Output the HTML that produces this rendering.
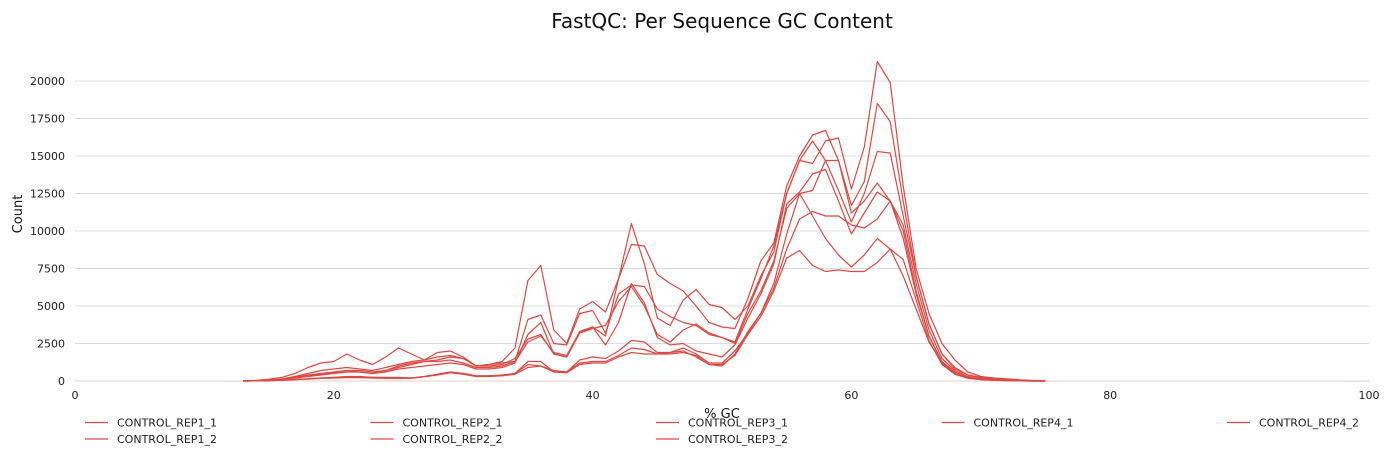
<!DOCTYPE html>
<html><head><meta charset="utf-8"><style>
html,body{margin:0;padding:0;background:#fff;width:1390px;height:460px;overflow:hidden}
svg{display:block;font-family:"DejaVu Sans","Liberation Sans",sans-serif}
</style></head><body>
<svg id="chart" width="1390" height="460">
<text x="722" y="28" text-anchor="middle" font-size="20" fill="#111">FastQC: Per Sequence GC Content</text>
<g id="grid"></g>
<g id="yticks"></g>
<g id="xticks"></g>
<text x="22" y="214" transform="rotate(-90 22 214)" text-anchor="middle" font-size="13" fill="#111">Count</text>
<text x="722" y="418" text-anchor="middle" font-size="13" fill="#111">% GC</text>
<g id="lines"></g>
<g id="legend"></g>
</svg>
<script>
const seriesNames = ["CONTROL_REP1_1","CONTROL_REP1_2","CONTROL_REP2_1","CONTROL_REP2_2","CONTROL_REP3_1","CONTROL_REP3_2","CONTROL_REP4_1","CONTROL_REP4_2"];
const yTicks = [0,2500,5000,7500,10000,12500,15000,17500,20000];
const xTicks = [0,20,40,60,80,100];
const startX = 13;
const s1 = [0,20,60,150,300,500,700,800,900,800,700,900,1100,1300,1400,1600,1700,1500,1000,1000,1100,1500,2800,3100,1800,1600,3200,3600,3000,6800,10500,7800,4200,3700,5400,6100,5100,4900,4100,5000,7000,8600,12500,14700,14500,16000,16200,12800,15600,21300,19900,13000,7500,4500,2500,1400,600,300,200,150,80,40,20];
const s2 = [0,20,50,120,250,400,500,600,700,600,500,700,900,1100,1300,1400,1600,1500,1000,1100,1300,2200,6700,7700,3400,2500,4800,5300,4600,6800,9100,9000,7100,6500,6000,5000,3900,3600,3500,5500,8000,9200,13000,15000,16400,16700,14700,11700,13300,18500,17300,12000,7000,3800,1800,900,400,250,200,100,60,30,10];
const s3 = [10,50,120,250,500,900,1200,1300,1800,1400,1100,1600,2200,1800,1400,1900,2000,1600,1000,1100,1200,1300,4100,4400,2500,2400,4500,4700,3200,5800,6400,6300,4800,4300,3900,3700,3100,2900,2600,4800,6800,9000,12500,14700,16000,14700,12700,10600,12500,15300,15200,11000,7000,3800,1800,800,400,200,150,100,50,20,10];
const s4 = [0,10,40,100,200,300,400,500,600,600,500,600,800,900,1000,1100,1200,1100,800,800,900,1200,3100,3900,1800,1600,3200,3500,3700,5300,6300,5000,3100,2600,3400,3800,3200,2900,2500,4500,6000,8000,11500,12500,12700,14700,14700,11200,12000,13200,12000,10400,6500,3400,1500,700,300,150,100,60,30,10,0];
const s5 = [0,10,30,60,100,150,200,250,300,300,250,250,250,200,300,450,600,500,350,350,350,500,1300,1300,600,600,1400,1600,1500,2000,2700,2600,1900,1900,2200,1800,1200,1200,2000,3200,4500,6500,9800,12500,11000,9500,8400,7600,8400,9500,8800,7000,4800,2600,1200,500,200,100,60,30,10,0,0];
const s6 = [0,10,30,60,100,150,200,200,250,250,250,200,200,200,300,450,600,500,350,350,400,500,1100,1000,700,600,1200,1300,1300,1700,2200,2100,1800,1900,2000,1600,1100,1000,1800,3300,4500,6200,8800,10800,11300,11000,11000,10400,10200,10800,12000,10000,6000,3000,1200,500,200,100,60,30,10,0,0];
const s7 = [0,10,30,50,90,130,180,200,220,220,200,180,180,180,280,400,550,450,300,300,350,450,900,1000,600,550,1100,1200,1200,1600,1900,1800,1800,1800,1900,1700,1100,1100,1700,3100,4300,6000,8200,8700,7700,7300,7400,7300,7300,7900,8800,8100,5400,2700,1100,450,180,90,50,20,10,0,0];
const s8 = [0,15,50,110,220,350,450,550,700,700,600,700,1000,1200,1300,1300,1400,1200,900,900,1000,1300,2600,3000,1900,1700,3300,3600,2400,3900,6500,5200,2900,2400,2500,2000,1800,1600,2400,4200,5800,7800,11800,12600,13800,14100,12000,9800,11200,12600,12000,9500,5800,3000,1300,600,250,120,80,40,20,10,0];
const allSeries = [s1,s2,s3,s4,s5,s6,s7,s8];

const X0=75, X1=1369, Y0=381, Y1=81;
const xs = v => X0 + (v/100)*(X1-X0);
const ys = v => Y0 - (v/20000)*(Y0-Y1);
const NS="http://www.w3.org/2000/svg";
function mk(tag, attrs, parent){const e=document.createElementNS(NS,tag);for(const k in attrs)e.setAttribute(k,attrs[k]);parent.appendChild(e);return e;}
const grid=document.getElementById('grid'), yt=document.getElementById('yticks'), xt=document.getElementById('xticks');
yTicks.forEach(t=>{
  const l=mk('line',{x1:X0,x2:X1,y1:ys(t),y2:ys(t),stroke:t===0?'#e6cccc':'#dcdcdc','stroke-width':1},grid);
  
  
  const tx=mk('text',{x:65,y:ys(t)+4,'text-anchor':'end','font-size':11,fill:'#222'},yt);
  tx.textContent=t;
  
  
});
xTicks.forEach(t=>{
  const tx=mk('text',{x:xs(t),y:399,'text-anchor':'middle','font-size':11,fill:'#222'},xt);
  tx.textContent=t;
  
  
});
const lines=document.getElementById('lines');
allSeries.forEach((s,i)=>{
  const pts=[];
  for(let idx=0;idx<s.length;idx++){const x=startX+idx;pts.push(xs(x).toFixed(1)+','+ys(s[idx]).toFixed(1));}
  const p=mk('polyline',{points:pts.join(' '),fill:'none',stroke:'#dc4a45','stroke-width':1.2,'stroke-linejoin':'round'},lines);
  
  
});
const lg=document.getElementById('legend');
const order=[[0,0],[1,0],[2,1],[3,1],[4,2],[5,2],[6,3],[7,4]];
const rowOf=[0,1,0,1,0,1,0,0];
order.forEach(([i,col])=>{
  const x=85+col*285.5, y=422.5+rowOf[i]*16.5;
  const g=mk('g',{},lg);
  
  
  mk('line',{x1:x,x2:x+23,y1:y,y2:y,stroke:'#dc4a45','stroke-width':1.2},g);
  const t=mk('text',{x:x+32,y:y+4,'font-size':11,fill:'#222'},g);
  t.textContent=seriesNames[i];
});
</script>
</body></html>
